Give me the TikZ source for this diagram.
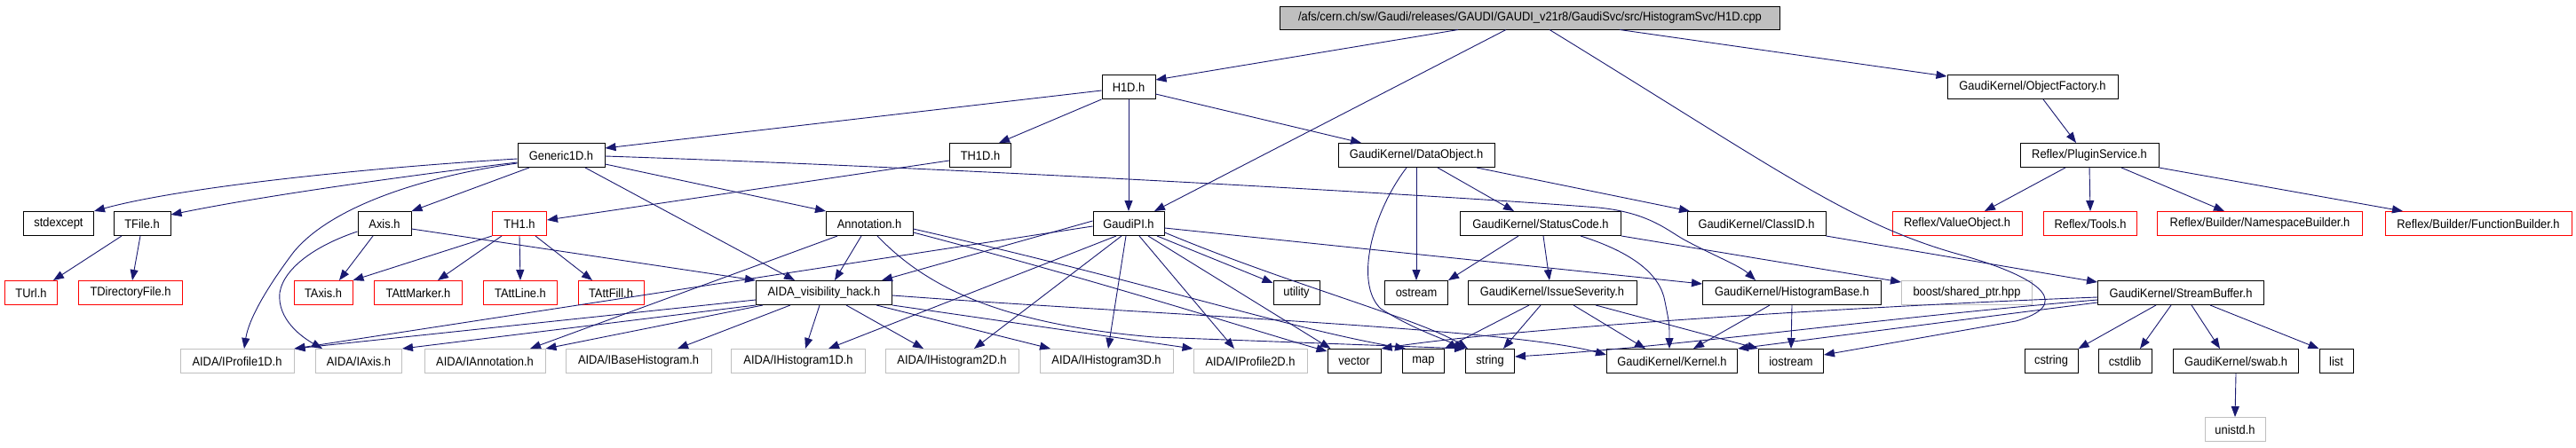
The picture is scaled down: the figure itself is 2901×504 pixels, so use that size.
\documentclass[tikz,border=0pt]{standalone}
\usepackage{fontspec}
\setmainfont{Liberation Sans}[FakeStretch=0.92]
\usetikzlibrary{arrows.meta}
\definecolor{edgec}{RGB}{25,25,112}
\definecolor{gbord}{RGB}{191,191,191}
\definecolor{mainfill}{RGB}{191,191,191}
\begin{document}
\begin{tikzpicture}[x=1pt,y=-1pt,
  box/.style={draw=black,line width=1pt,minimum height=27pt,inner sep=0pt,font=\fontsize{14}{16}\selectfont},
  rbox/.style={box,draw=red},
  gbox/.style={box,draw=gbord},
  e/.style={draw=edgec,line width=0.9pt,-{Triangle[length=12pt,width=9pt]}}]
\useasboundingbox (0,0) rectangle (2901,504);
% row 0
\node[box,fill=mainfill,minimum width=563pt,minimum height=26pt] (main) at (1723,20) {/afs/cern.ch/sw/Gaudi/releases/GAUDI/GAUDI\_v21r8/GaudiSvc/src/HistogramSvc/H1D.cpp};
% row 1
\node[box,minimum width=60pt] (h1d) at (1271,98) {H1D.h};
\node[box,minimum width=192pt] (of) at (2289,98) {GaudiKernel/ObjectFactory.h};
% row 2
\node[box,minimum width=98pt] (gen) at (632,175) {Generic1D.h};
\node[box,minimum width=69pt] (th1d) at (1104,175) {TH1D.h};
\node[box,minimum width=176pt] (dobj) at (1595,175) {GaudiKernel/DataObject.h};
\node[box,minimum width=156pt] (ps) at (2353,175) {Reflex/PluginService.h};
% row 3
\node[box,minimum width=79pt] (stdexc) at (66,252) {stdexcept};
\node[box,minimum width=64pt] (tfile) at (160,252) {TFile.h};
\node[box,minimum width=60pt] (axis) at (433,252) {Axis.h};
\node[rbox,minimum width=61pt] (th1) at (585,252) {TH1.h};
\node[box,minimum width=98pt] (ann) at (979,252) {Annotation.h};
\node[box,minimum width=80pt] (gpi) at (1271,252) {GaudiPI.h};
\node[box,minimum width=181pt] (sc) at (1735,252) {GaudiKernel/StatusCode.h};
\node[box,minimum width=156pt] (cid) at (1978,252) {GaudiKernel/ClassID.h};
\node[rbox,minimum width=146pt] (vo) at (2204,252) {Reflex/ValueObject.h};
\node[rbox,minimum width=105pt] (tools) at (2354,252) {Reflex/Tools.h};
\node[rbox,minimum width=231pt] (nsb) at (2545,252) {Reflex/Builder/NamespaceBuilder.h};
\node[rbox,minimum width=210pt] (fb) at (2791,252) {Reflex/Builder/FunctionBuilder.h};
% row 4
\node[rbox,minimum width=59pt] (turl) at (35,330) {TUrl.h};
\node[rbox,minimum width=117pt] (tdir) at (147,330) {TDirectoryFile.h};
\node[rbox,minimum width=66pt] (taxis) at (364,330) {TAxis.h};
\node[rbox,minimum width=99pt] (tmark) at (471,330) {TAttMarker.h};
\node[rbox,minimum width=83pt] (tline) at (586,330) {TAttLine.h};
\node[rbox,minimum width=74pt] (tfill) at (688,330) {TAttFill.h};
\node[box,minimum width=153pt] (aida) at (928,330) {AIDA\_visibility\_hack.h};
\node[box,minimum width=52pt] (util) at (1460,330) {utility};
\node[box,minimum width=71pt] (ostr) at (1595,330) {ostream};
\node[box,minimum width=190pt] (iss) at (1748,330) {GaudiKernel/IssueSeverity.h};
\node[box,minimum width=201pt] (hb) at (2018,330) {GaudiKernel/HistogramBase.h};
\node[gbox,minimum width=147pt] (boost) at (2215,330) {boost/shared\_ptr.hpp};
\node[box,minimum width=187pt] (sb) at (2456,330) {GaudiKernel/StreamBuffer.h};
% row 5
\node[gbox,minimum width=128pt] (ip1) at (267,407) {AIDA/IProfile1D.h};
\node[gbox,minimum width=97pt] (iaxis) at (404,407) {AIDA/IAxis.h};
\node[gbox,minimum width=136pt] (iann) at (546,407) {AIDA/IAnnotation.h};
\node[gbox,minimum width=164pt] (ibase) at (719,407) {AIDA/IBaseHistogram.h};
\node[gbox,minimum width=151pt] (ih1) at (899,407) {AIDA/IHistogram1D.h};
\node[gbox,minimum width=150pt] (ih2) at (1072,407) {AIDA/IHistogram2D.h};
\node[gbox,minimum width=150pt] (ih3) at (1246,407) {AIDA/IHistogram3D.h};
\node[gbox,minimum width=128pt] (ip2) at (1408,407) {AIDA/IProfile2D.h};
\node[box,minimum width=60pt] (vec) at (1525,407) {vector};
\node[box,minimum width=47pt] (map) at (1603,407) {map};
\node[box,minimum width=55pt] (str) at (1678,407) {string};
\node[box,minimum width=147pt] (kern) at (1883,407) {GaudiKernel/Kernel.h};
\node[box,minimum width=73pt] (ios) at (2017,407) {iostream};
\node[box,minimum width=60pt] (cstr) at (2310,407) {cstring};
\node[box,minimum width=60pt] (cstd) at (2393,407) {cstdlib};
\node[box,minimum width=141pt] (swab) at (2518,407) {GaudiKernel/swab.h};
\node[box,minimum width=38pt] (list) at (2631,407) {list};
% row 6
\node[gbox,minimum width=68pt] (unistd) at (2517,484) {unistd.h};

% ---- edges ----
% main
\draw[e] ([xshift=-81pt]main.south) -- ([yshift=8pt]h1d.east);
\draw[e] ([xshift=-27pt]main.south) -- ([xshift=29pt]gpi.north);
\draw[e] ([xshift=101pt]main.south) -- ([yshift=12pt]of.west);
\draw[e] ([xshift=22pt]main.south) .. controls (2000,190) and (2080,250) .. (2200,285) .. controls (2310,315) and (2330,345) .. (2270,362) -- ([yshift=7pt]ios.east);
% H1D
\draw[e] ([yshift=-4pt]h1d.west) -- ([yshift=8pt]gen.east);
\draw[e] (h1d.south west) -- ([xshift=21pt]th1d.north);
\draw[e] (h1d.south) -- (gpi.north);
\draw[e] ([yshift=-8pt]h1d.east) -- ([xshift=-62pt]dobj.north);
% ObjectFactory / PluginService
\draw[e] ([xshift=12pt]of.south) -- ([xshift=-15pt]ps.north);
\draw[e] ([xshift=-27pt]ps.south) -- ([xshift=31pt]vo.north);
\draw[e] (ps.south) -- (tools.north);
\draw[e] ([xshift=36pt]ps.south) -- ([xshift=-40pt]nsb.north);
\draw[e] (ps.south east) -- ([xshift=-85pt]fb.north);
% Generic1D
\draw[e] ([yshift=-4pt]gen.west) .. controls (400,190) and (200,212) .. (stdexc.north east);
\draw[e] ([yshift=-8pt]gen.west) .. controls (460,198) and (300,220) .. ([yshift=-4pt]tfile.north east);
\draw[e] ([xshift=-36pt]gen.south) -- (axis.north east);
\draw[e] ([yshift=-10pt]gen.east) -- ([xshift=-49pt]ann.north);
\draw[e] ([xshift=27pt]gen.south) -- ([xshift=-33pt]aida.north);
\draw[e] ([yshift=-9pt]gen.west) .. controls (470,200) and (370,235) .. (330,285) .. controls (300,325) and (280,360) .. ([xshift=8pt]ip1.north);
\draw[e] ([yshift=-1pt]gen.east) .. controls (1100,190) and (1650,222) .. (1800,234) .. controls (1860,240) and (1880,262) .. (1900,272) .. controls (1930,288) and (1960,300) .. ([xshift=-41pt]hb.north);
% TH1D
\draw[e] ([yshift=-6pt]th1d.west) -- ([yshift=4pt]th1.east);
% DataObject
\draw[e] ([xshift=24pt]dobj.south) -- ([xshift=-30pt]sc.north);
\draw[e] ([xshift=68pt]dobj.south) -- ([xshift=-75pt]cid.north);
\draw[e] (dobj.south) -- (ostr.north);
\draw[e] ([xshift=-11pt]dobj.south) .. controls (1545,240) and (1525,320) .. (1555,348) .. controls (1590,370) and (1620,380) .. (str.north west);
% TFile
\draw[e] ([xshift=-23pt]tfile.south) -- ([xshift=25pt]turl.north);
\draw[e] ([xshift=-2pt]tfile.south) -- ([xshift=2pt]tdir.north);
% Axis
\draw[e] ([xshift=-13pt]axis.south) -- ([xshift=18pt]taxis.north);
\draw[e] ([yshift=-9pt]axis.west) .. controls (360,275) and (320,300) .. (315,330) .. controls (312,360) and (340,380) .. ([xshift=-41pt]iaxis.north);
\draw[e] ([yshift=-6pt]axis.east) -- (aida.north west);
% TH1
\draw[e] (th1.south west) -- (taxis.north east);
\draw[e] ([xshift=-20pt]th1.south) -- ([xshift=22pt]tmark.north);
\draw[e] (th1.south) -- (tline.north);
\draw[e] ([xshift=18pt]th1.south) -- ([xshift=-21pt]tfill.north);
% Annotation
\draw[e] ([xshift=-9pt]ann.south) -- ([xshift=12pt]aida.north);
\draw[e] ([xshift=-36pt]ann.south) -- ([xshift=51pt]iann.north);
\draw[e] ([xshift=9pt]ann.south) .. controls (1040,320) and (1120,365) .. (1300,380) -- (str.north west);
\draw[e] ([yshift=-6pt]ann.east) .. controls (1300,320) and (1450,370) .. ([xshift=4pt]map.north west);
\draw[e] ([yshift=-10pt]ann.east) .. controls (1250,320) and (1420,375) .. ([yshift=-3pt]vec.north west);
% GaudiPI
\draw[e] ([yshift=3pt]gpi.west) -- ([xshift=65pt]aida.north);
\draw[e] ([yshift=-3pt]gpi.west) -- (ip1.north east);
\draw[e] ([xshift=-14pt]gpi.south) -- ([xshift=34pt]ih1.north);
\draw[e] ([xshift=-8pt]gpi.south) -- ([xshift=25pt]ih2.north);
\draw[e] ([xshift=-3pt]gpi.south) -- ([xshift=2pt]ih3.north);
\draw[e] ([xshift=12pt]gpi.south) -- ([xshift=-18pt]ip2.north);
\draw[e] ([xshift=22pt]gpi.south) -- ([xshift=4pt]vec.north west);
\draw[e] ([xshift=32pt]gpi.south) -- ([yshift=-3pt]util.north west);
\draw[e] ([yshift=-5pt]gpi.east) -- ([yshift=10pt]hb.west);
\draw[e] ([yshift=-10pt]gpi.east) .. controls (1450,320) and (1600,360) .. ([xshift=3pt]str.north west);
% AIDA_visibility_hack
\draw[e] ([yshift=-8pt]aida.west) -- (ip1.north east);
\draw[e] (aida.south west) -- (iaxis.north east);
\draw[e] ([xshift=8pt]aida.south west) -- (iann.north east);
\draw[e] ([xshift=-38pt]aida.south) -- ([xshift=44pt]ibase.north);
\draw[e] ([xshift=-5pt]aida.south) -- ([xshift=8pt]ih1.north);
\draw[e] ([xshift=25pt]aida.south) -- ([xshift=-32pt]ih2.north);
\draw[e] ([xshift=59pt]aida.south) -- ([xshift=-63pt]ih3.north);
\draw[e] (aida.south east) -- (ip2.north west);
\draw[e] ([yshift=-3pt]aida.east) .. controls (1300,355) and (1700,370) .. ([yshift=7pt]kern.west);
% StatusCode
\draw[e] ([xshift=-25pt]sc.south) -- (ostr.north east);
\draw[e] ([xshift=3pt]sc.south) -- ([xshift=-3pt]iss.north);
\draw[e] ([xshift=45pt]sc.south) .. controls (1840,285) and (1870,310) .. (1875,340) .. controls (1880,365) .. ([xshift=-3pt]kern.north);
\draw[e] (sc.south east) -- ([yshift=-2pt]boost.north west);
% IssueSeverity
\draw[e] ([xshift=-26pt]iss.south) -- (map.north east);
\draw[e] ([xshift=-13pt]iss.south) -- ([xshift=15pt]str.north);
\draw[e] ([xshift=24pt]iss.south) -- ([xshift=-30pt]kern.north);
\draw[e] ([xshift=49pt]iss.south) -- (ios.north west);
% HistogramBase
\draw[e] ([xshift=-25pt]hb.south) -- ([xshift=24pt]kern.north);
\draw[e] (hb.south) -- (ios.north);
% ClassID
\draw[e] (cid.south east) -- ([yshift=-2pt]sb.north west);
% StreamBuffer
\draw[e] ([xshift=-28pt]sb.south) -- (cstr.north east);
\draw[e] ([xshift=-11pt]sb.south) -- ([xshift=17pt]cstd.north);
\draw[e] ([xshift=12pt]sb.south) -- ([xshift=-18pt]swab.north);
\draw[e] ([xshift=33pt]sb.south) -- (list.north west);
\draw[e] ([yshift=-5pt]sb.west) .. controls (2100,345) and (1700,370) .. (vec.north east);
\draw[e] ([yshift=-8pt]sb.west) .. controls (2100,360) and (1900,390) .. ([yshift=5pt]str.east);
\draw[e] ([yshift=-11pt]sb.west) -- (kern.north east);
\draw[e] (swab.south) -- (unistd.north);
\end{tikzpicture}
\end{document}
